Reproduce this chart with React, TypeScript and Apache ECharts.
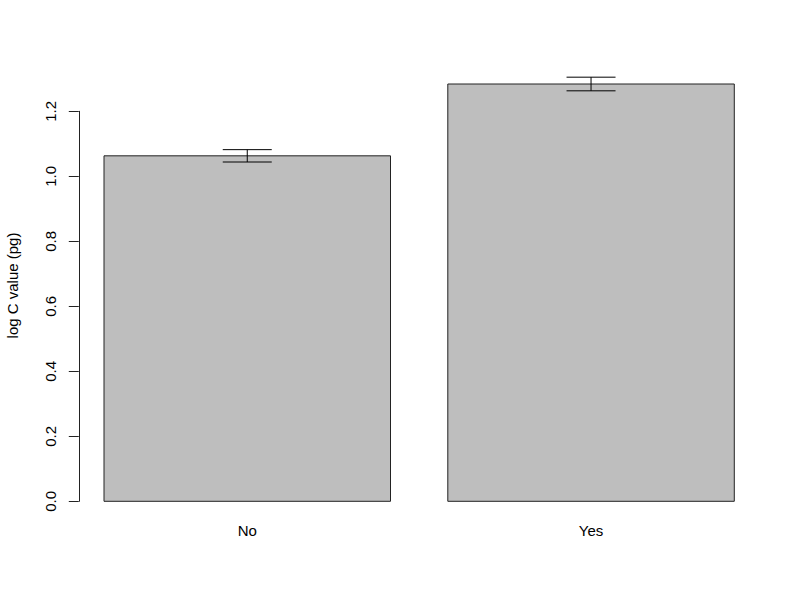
import { useRef, useEffect } from "react";
import * as echarts from "echarts";

// group labels, bar heights (mean log C) and half-width of the error bars
const groups = ["No", "Yes"];
const means = [1.063, 1.284];
const errors = [0.019, 0.021];
const yTicks = { min: 0, max: 1.2, interval: 0.2 };

// R barplot layout: width 1, space 0.2, 4% padding on the x range
const barCenters = groups.map((_, i) => 0.7 + i * 1.2);

export default function App() {
  const chartRef = useRef<HTMLDivElement>(null);

  useEffect(() => {
    if (!chartRef.current) return;
    const chart = echarts.init(chartRef.current, null, { renderer: "svg" });

    const data = groups.map((g, i) => [barCenters[i], means[i], errors[i], g]);

    chart.setOption({
      animation: false,
      backgroundColor: "#ffffff",
      textStyle: { fontFamily: "Liberation Sans, Arial, sans-serif" },
      grid: { left: 78.8, right: 40.5, top: 111.3, bottom: 98.7 },
      xAxis: {
        type: "value",
        min: 0.112,
        max: 2.488,
        show: false,
      },
      yAxis: {
        type: "value",
        min: yTicks.min,
        max: yTicks.max,
        interval: yTicks.interval,
        splitLine: { show: false },
        axisLine: { show: true, lineStyle: { color: "#222", width: 1 } },
        axisTick: { show: true, length: 10, lineStyle: { color: "#222", width: 1 } },
        axisLabel: {
          rotate: 90,
          margin: 21,
          fontSize: 15,
          color: "#000",
          fontFamily: "Liberation Sans, Arial, sans-serif",
          formatter: (v: number) => v.toFixed(1),
        },
      },
      graphic: [
        {
          type: "text",
          x: 12.3,
          y: 285.5,
          rotation: Math.PI / 2,
          style: {
            text: "log C value (pg)",
            fontSize: 15,
            fill: "#000",
            fontFamily: "Liberation Sans, Arial, sans-serif",
            align: "center",
            verticalAlign: "middle",
          },
        },
      ],
      series: [
        {
          type: "custom",
          clip: false,
          data,
          encode: { x: 0, y: 1 },
          renderItem: (params: any, api: any) => {
            const x = api.value(0);
            const m = api.value(1);
            const e = api.value(2);
            const label = groups[params.dataIndex];
            const tl = api.coord([x - 0.5, m]);
            const br = api.coord([x + 0.5, 0]);
            const top = api.coord([x, m + e]);
            const bot = api.coord([x, m - e]);
            const cap = 24.5;
            const ln = { stroke: "#000", lineWidth: 1 };
            return {
              type: "group",
              children: [
                {
                  type: "rect",
                  shape: { x: tl[0], y: tl[1], width: br[0] - tl[0], height: br[1] - tl[1] },
                  style: { fill: "#bebebe", stroke: "#222", lineWidth: 1 },
                },
                { type: "line", shape: { x1: top[0], y1: top[1], x2: bot[0], y2: bot[1] }, style: ln },
                { type: "line", shape: { x1: top[0] - cap, y1: top[1], x2: top[0] + cap, y2: top[1] }, style: ln },
                { type: "line", shape: { x1: bot[0] - cap, y1: bot[1], x2: bot[0] + cap, y2: bot[1] }, style: ln },
                {
                  type: "text",
                  x: (tl[0] + br[0]) / 2,
                  y: br[1] + 29,
                  style: {
                    text: label,
                    fontSize: 15,
                    fill: "#000",
                    fontFamily: "Liberation Sans, Arial, sans-serif",
                    align: "center",
                    verticalAlign: "middle",
                  },
                },
              ],
            };
          },
        },
      ],
    });

    return () => chart.dispose();
  }, []);

  return (
    <div
      ref={chartRef}
      style={{ position: "absolute", left: 0, top: 0, width: 800, height: 600 }}
    />
  );
}
